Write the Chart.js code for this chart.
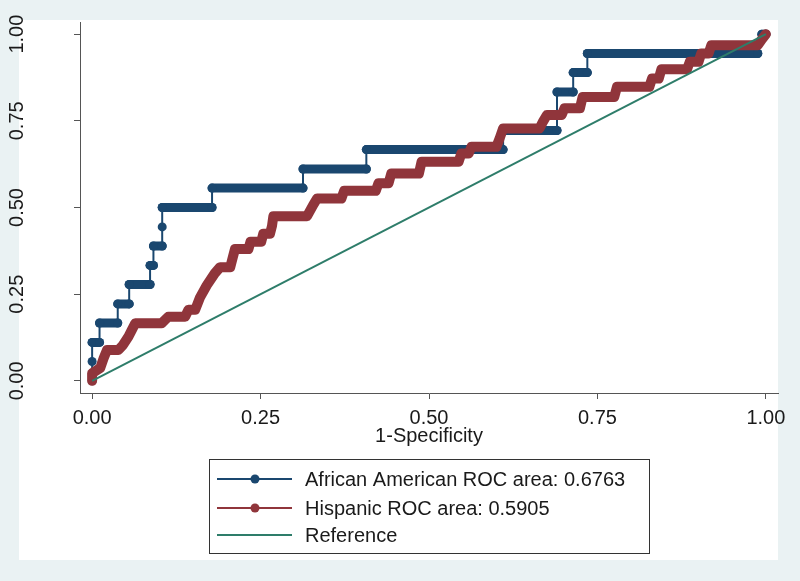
<!DOCTYPE html>
<html>
<head>
<meta charset="utf-8">
<title>ROC curves</title>
<script src="https://cdn.jsdelivr.net/npm/chart.js@4/dist/chart.umd.min.js"></script>
<style>
    html, body { margin: 0; padding: 0; background: #eaf2f3; }
    #wrap { width: 800px; height: 581px; position: relative; }
</style>
</head>
<body>
<div id="wrap"><canvas id="rocChart"></canvas></div>
<script>
// Curve corners (1-specificity, sensitivity)
const fprAfrican = [0, 0, 0, 0.011, 0.011, 0.038, 0.038, 0.055, 0.055, 0.086, 0.086, 0.091, 0.091, 0.104, 0.104, 0.104, 0.178, 0.178, 0.313, 0.313, 0.407, 0.407, 0.610, 0.610, 0.690, 0.690, 0.714, 0.714, 0.735, 0.735, 0.988, 0.994, 1];
const tprAfrican = [0, 0.056, 0.111, 0.111, 0.167, 0.167, 0.222, 0.222, 0.278, 0.278, 0.333, 0.333, 0.389, 0.389, 0.444, 0.5, 0.5, 0.556, 0.556, 0.611, 0.611, 0.667, 0.667, 0.722, 0.722, 0.833, 0.833, 0.889, 0.889, 0.944, 0.944, 1, 1];

const fprHispanic = [0, 0, 0.012, 0.017, 0.022, 0.039, 0.046, 0.054, 0.059, 0.064, 0.103, 0.113, 0.138, 0.143, 0.153, 0.160, 0.170, 0.182, 0.190, 0.205, 0.209, 0.212, 0.232, 0.235, 0.251, 0.254, 0.264, 0.267, 0.269, 0.319, 0.328, 0.334, 0.370, 0.374, 0.421, 0.425, 0.440, 0.444, 0.485, 0.489, 0.544, 0.548, 0.559, 0.563, 0.600, 0.605, 0.610, 0.664, 0.669, 0.675, 0.697, 0.701, 0.724, 0.728, 0.775, 0.779, 0.827, 0.831, 0.841, 0.845, 0.883, 0.887, 0.900, 0.904, 0.915, 0.919, 0.988, 0.994, 1];
const tprHispanic = [0, 0.022, 0.037, 0.065, 0.089, 0.089, 0.104, 0.128, 0.147, 0.166, 0.166, 0.185, 0.185, 0.205, 0.205, 0.240, 0.275, 0.310, 0.328, 0.328, 0.358, 0.380, 0.380, 0.401, 0.401, 0.424, 0.424, 0.447, 0.475, 0.475, 0.507, 0.526, 0.526, 0.548, 0.548, 0.570, 0.570, 0.598, 0.598, 0.632, 0.632, 0.656, 0.656, 0.675, 0.675, 0.700, 0.728, 0.728, 0.747, 0.767, 0.767, 0.786, 0.786, 0.819, 0.819, 0.848, 0.848, 0.872, 0.872, 0.899, 0.899, 0.920, 0.920, 0.944, 0.944, 0.968, 0.968, 0.985, 1];

const refX = [0, 1];
const refY = [0, 1];

const seriesLabels = ['African American ROC area: 0.6763', 'Hispanic ROC area: 0.5905', 'Reference'];
const xTicks = [0, 0.25, 0.5, 0.75, 1];
const yTicks = [0, 0.25, 0.5, 0.75, 1];

const NAVY = '#1a476f';
const MAROON = '#90353b';
const GREEN = '#2e7d6a';

function toPoints(xs, ys) {
    return xs.map((x, i) => ({ x: x, y: ys[i] }));
}

// Stata-like panel: grey-blue outer, white inner region
const panelBackground = {
    id: 'panelBackground',
    beforeDraw(chart) {
        const ctx = chart.ctx;
        ctx.save();
        ctx.fillStyle = '#eaf2f3';
        ctx.fillRect(0, 0, chart.width, chart.height);
        ctx.fillStyle = '#ffffff';
        ctx.fillRect(19, 20, chart.chartArea.right - 19, 540);
        ctx.restore();
    }
};

// Boxed legend with one entry per row, below the axis title
const boxedLegend = {
    id: 'boxedLegend',
    afterDraw(chart) {
        const ctx = chart.ctx;
        const area = chart.chartArea;
        const centre = (area.left + area.right) / 2;
        const left = centre - 220;
        const top = chart.scales.x.bottom + 6;
        const rows = [20, 49, 76];

        ctx.save();
        ctx.fillStyle = '#ffffff';
        ctx.fillRect(left, top, 440, 94);
        ctx.strokeStyle = '#333333';
        ctx.lineWidth = 1;
        ctx.strokeRect(left + 0.5, top + 0.5, 440, 94);

        chart.data.datasets.forEach((ds, i) => {
            const y = top + rows[i];
            ctx.strokeStyle = ds.borderColor;
            ctx.lineWidth = 2;
            ctx.beginPath();
            ctx.moveTo(left + 8, y);
            ctx.lineTo(left + 83, y);
            ctx.stroke();
            if (ds.legendMarker) {
                ctx.fillStyle = ds.borderColor;
                ctx.beginPath();
                ctx.arc(left + 46, y, 4.5, 0, Math.PI * 2);
                ctx.fill();
            }
            ctx.fillStyle = '#1a1a1a';
            ctx.font = '20px "Liberation Sans", Arial, sans-serif';
            ctx.textAlign = 'left';
            ctx.textBaseline = 'middle';
            ctx.fillText(ds.label, left + 96, y + 1);
        });
        ctx.restore();
    }
};

class RocChart {
    constructor(canvasId) {
        this.canvas = document.getElementById(canvasId);
        this.chart = null;
    }

    initialize() {
        Chart.defaults.font.family = '"Liberation Sans", Arial, sans-serif';
        Chart.defaults.font.size = 20;
        Chart.defaults.color = '#1a1a1a';

        this.chart = new Chart(this.canvas, {
            type: 'line',
            data: { datasets: this.buildDatasets() },
            options: this.buildOptions(),
            plugins: [panelBackground, boxedLegend]
        });
    }

    buildDatasets() {
        return [{
            label: seriesLabels[0],
            data: toPoints(fprAfrican, tprAfrican),
            borderColor: NAVY,
            backgroundColor: NAVY,
            borderWidth: 2,
            pointRadius: 4.5,
            pointBorderWidth: 0,
            pointBackgroundColor: NAVY,
            legendMarker: true,
            order: 3,
            // flat runs are a row of dense markers, rises a thin connector
            segment: {
                borderWidth: ctx => (ctx.p0.parsed.y === ctx.p1.parsed.y ? 9 : 2),
                borderCapStyle: ctx => (ctx.p0.parsed.y === ctx.p1.parsed.y ? 'round' : 'butt')
            }
        }, {
            label: seriesLabels[1],
            data: toPoints(fprHispanic, tprHispanic),
            borderColor: MAROON,
            backgroundColor: MAROON,
            borderWidth: 10,
            borderCapStyle: 'round',
            borderJoinStyle: 'round',
            pointRadius: 0,
            legendMarker: true,
            order: 2
        }, {
            label: seriesLabels[2],
            data: toPoints(refX, refY),
            borderColor: GREEN,
            borderWidth: 2,
            pointRadius: 0,
            legendMarker: false,
            order: 1
        }];
    }

    buildOptions() {
        return {
            responsive: true,
            maintainAspectRatio: false,
            animation: false,
            clip: false,
            layout: { padding: { left: 0, right: 22, top: 22, bottom: 128 } },
            plugins: {
                legend: { display: false },
                tooltip: { enabled: false }
            },
            scales: {
                x: {
                    type: 'linear',
                    min: -0.018,
                    max: 1.018,
                    afterBuildTicks: s => { s.ticks = xTicks.map(v => ({ value: v })); },
                    afterFit: s => {
                        s.height = 60;
                        s.paddingLeft = 0;
                        s.paddingRight = 0;
                    },
                    ticks: { callback: v => v.toFixed(2), padding: 7, maxRotation: 0 },
                    grid: { drawOnChartArea: false, tickLength: 6, color: '#555555' },
                    border: { display: true, color: '#555555', width: 1 },
                    title: { display: true, text: '1-Specificity', padding: { top: 0, bottom: 5 } }
                },
                y: {
                    type: 'linear',
                    min: -0.035,
                    max: 1.035,
                    afterBuildTicks: s => { s.ticks = yTicks.map(v => ({ value: v })); },
                    afterFit: s => {
                        s.width = 80;
                        s.paddingTop = 0;
                        s.paddingBottom = 0;
                    },
                    ticks: {
                        callback: v => v.toFixed(2),
                        minRotation: 90,
                        maxRotation: 90,
                        crossAlign: 'center',
                        padding: 37
                    },
                    grid: { drawOnChartArea: false, tickLength: 6, color: '#555555' },
                    border: { display: true, color: '#555555', width: 1 }
                }
            }
        };
    }
}

document.addEventListener('DOMContentLoaded', () => {
    const rocChart = new RocChart('rocChart');
    rocChart.initialize();
});
</script>
</body>
</html>
